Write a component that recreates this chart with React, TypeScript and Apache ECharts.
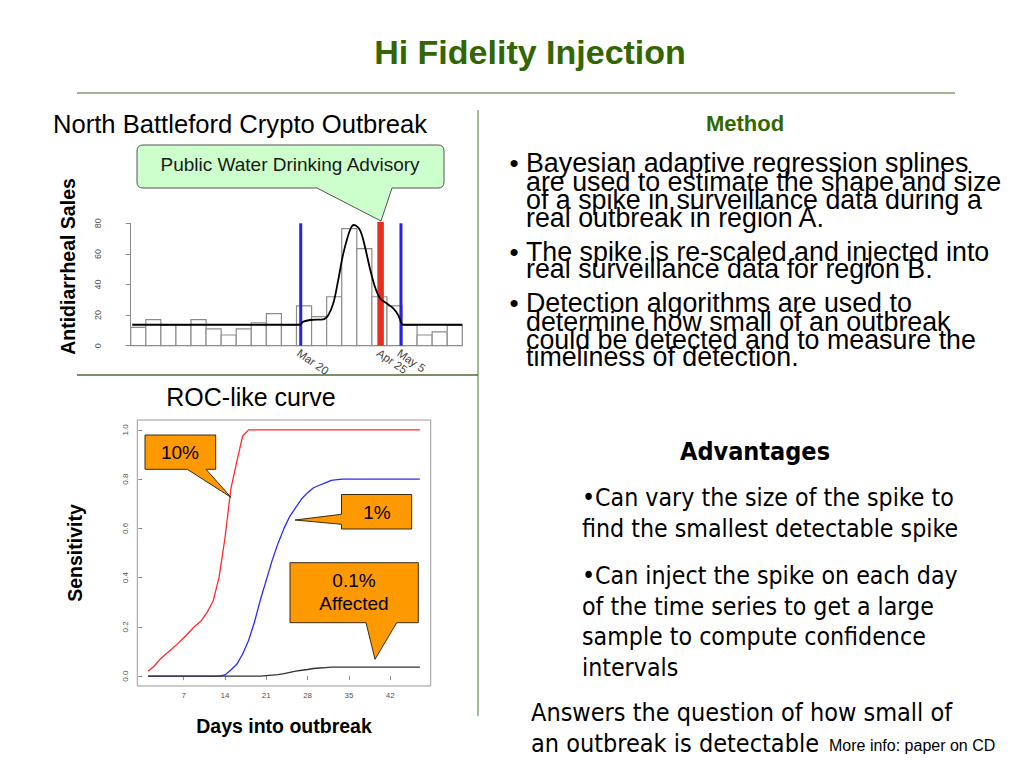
import React, { useEffect, useRef } from "react";
import * as echarts from "echarts";

// ---------- Top chart: weekly antidiarrheal sales ----------
const histValues = [12, 17, 13.5, 13.5, 17, 11, 7, 11, 15, 21, 13.5, 26, 19, 32, 76.5, 63.5, 32, 26, 13.5, 7, 9, 13.5];
const histTicks = [0, 20, 40, 60, 80];
const splineX = [0.1, 11.2, 11.45, 11.9, 12.78, 13.11, 13.44, 13.77, 14.1, 14.55, 14.81, 15.21, 15.54, 15.87, 16.2, 16.54, 16.98, 17.42, 17.75, 17.97, 18.1, 22];
const splineY = [13.7, 13.7, 15.7, 16.8, 17.2, 20, 27.7, 43, 60, 75.6, 78.9, 75.6, 64.7, 50.5, 38.6, 31, 27.7, 24.4, 20, 14.6, 13.7, 13.7];
const eventLabels = ["Mar 20", "Apr 25", "May 5"];
const eventPos = [11.28, 16.58, 17.93];
const eventTop = [80, 81, 80];
const eventColors = ["#2323e6", "#e5301c", "#2323e6"];
const eventWidths = [3, 6.5, 3];

// ---------- Bottom chart: ROC-like curve ----------
const days = [1, 2, 3, 4, 5, 6, 7, 8, 9, 10, 11, 12, 13, 14, 15, 16, 17, 18, 19, 20, 21, 22, 23, 24, 25, 26, 27, 28, 29, 30, 31, 32, 33, 34, 35, 36, 37, 38, 39, 40, 41, 42, 43, 44, 45, 46, 47];
const sens10 = [0.02, 0.04, 0.068, 0.09, 0.11, 0.132, 0.155, 0.18, 0.205, 0.225, 0.26, 0.305, 0.4, 0.56, 0.76, 0.87, 0.975, 1, 1, 1, 1, 1, 1, 1, 1, 1, 1, 1, 1, 1, 1, 1, 1, 1, 1, 1, 1, 1, 1, 1, 1, 1, 1, 1, 1, 1, 1];
const sens1 = [0, 0, 0, 0, 0, 0, 0, 0, 0, 0, 0, 0, 0, 0.005, 0.025, 0.048, 0.09, 0.145, 0.22, 0.31, 0.39, 0.47, 0.54, 0.6, 0.65, 0.685, 0.72, 0.745, 0.765, 0.775, 0.785, 0.795, 0.798, 0.8, 0.8, 0.8, 0.8, 0.8, 0.8, 0.8, 0.8, 0.8, 0.8, 0.8, 0.8, 0.8, 0.8];
const sens01 = [0, 0, 0, 0, 0, 0, 0, 0, 0, 0, 0, 0, 0, 0, 0, 0, 0, 0, 0, 0, 0.002, 0.004, 0.006, 0.01, 0.015, 0.02, 0.024, 0.027, 0.031, 0.033, 0.035, 0.037, 0.037, 0.037, 0.037, 0.037, 0.037, 0.037, 0.037, 0.037, 0.037, 0.037, 0.037, 0.037, 0.037, 0.037, 0.037];
const dayTicks = [7, 14, 21, 28, 35, 42];
const sensTicks = [0, 0.2, 0.4, 0.6, 0.8, 1.0];

// ---------- Slide texts ----------
const methodBullets = [
  ["Bayesian adaptive regression splines", "are used to estimate the shape and size", "of a spike in surveillance data during a", "real outbreak in region A."],
  ["The spike is re-scaled and injected into", "real surveillance data for region B."],
  ["Detection algorithms are used to", "determine how small of an outbreak", "could be detected and to measure the", "timeliness of detection."],
];
const methodLineY = [
  [163, 181.5, 200, 218],
  [251.5, 269],
  [303, 321.5, 340, 357],
];
const advLines = [
  "\u2022Can vary the size of the spike to",
  "find the smallest detectable spike",
  "\u2022Can inject the spike on each day",
  "of the time series to get a large",
  "sample to compute confidence",
  "intervals",
];
const advLineY = [497, 528, 575, 606, 636, 667];

const SANS = '"Liberation Sans", Arial, sans-serif';
const VERD = '"DejaVu Sans Condensed", "DejaVu Sans", sans-serif';

const greenCalloutPath =
  "M143 145 H438 Q444 145 444 151 V182 Q444 188 438 188 H392 L381 221 L317 188 H143 Q137 188 137 182 V151 Q137 145 143 145 Z";

function txt(text: string, x: number, y: number, font: string, fill = "#000", align = "left", rotation = 0) {
  return {
    type: "text",
    x,
    y,
    rotation,
    z: 100,
    style: { text, font, fill, align, textAlign: align, verticalAlign: "middle", textVerticalAlign: "middle" },
  };
}

export default function App() {
  const ref = useRef<HTMLDivElement>(null);
  useEffect(() => {
    document.body.style.margin = "0";
    if (!ref.current) return;
    try {
      echarts.graphic.registerShape("greenCallout", echarts.graphic.extendPath(greenCalloutPath, {}));
    } catch (e) {}
    const chart = echarts.init(ref.current, null, { renderer: "svg" });

    const graphics: any[] = [];
    graphics.push(txt("Hi Fidelity Injection", 530, 52, `bold 34px ${SANS}`, "#336600", "center"));
    graphics.push({ type: "line", z: 100, shape: { x1: 77, y1: 93, x2: 955, y2: 93 }, style: { stroke: "#7f9c68", lineWidth: 1.5 } });
    graphics.push({ type: "line", z: 100, shape: { x1: 478, y1: 110, x2: 478, y2: 716 }, style: { stroke: "#86a76e", lineWidth: 1.5 } });
    graphics.push({ type: "line", z: 100, shape: { x1: 77, y1: 375, x2: 478, y2: 375 }, style: { stroke: "#4d6b33", lineWidth: 1.5 } });
    graphics.push(txt("North Battleford Crypto Outbreak", 53, 124, `25.6px ${SANS}`, "#000"));
    graphics.push(txt("Method", 745, 123, `bold 22px ${SANS}`, "#336600", "center"));
    methodBullets.forEach((lines, bi) => {
      graphics.push(txt("\u2022", 514, methodLineY[bi][0], `26px ${SANS}`, "#000", "center"));
      lines.forEach((l, li) => graphics.push(txt(l, 526, methodLineY[bi][li], `26.8px ${SANS}`, "#000")));
    });
    graphics.push(txt("Antidiarrheal Sales", 68, 266.5, `bold 19.5px ${SANS}`, "#000", "center", Math.PI / 2));
    graphics.push(txt("ROC-like curve", 251, 397, `25px ${SANS}`, "#000", "center"));
    graphics.push(txt("Advantages", 755, 451, `bold 25px ${VERD}`, "#000", "center"));
    advLines.forEach((l, i) => graphics.push(txt(l, 582, advLineY[i], `24.7px ${VERD}`, "#000")));
    graphics.push(txt("Answers the question of how small of", 531, 712, `25px ${VERD}`, "#000"));
    graphics.push(txt("an outbreak is detectable", 531, 743, `25px ${VERD}`, "#000"));
    graphics.push(txt("More info: paper on CD", 829, 745, `16px ${SANS}`, "#000"));

    // callouts
    graphics.push({ type: "greenCallout", x: 0, y: 0, z: 100, style: { fill: "#ccffcc", stroke: "#555", lineWidth: 1 } });
    graphics.push(txt("Public Water Drinking Advisory", 290, 164, `19px ${SANS}`, "#1a1a1a", "center"));
    const orange = { fill: "#ff9900", stroke: "#3a2a10", lineWidth: 1 };
    graphics.push({
      type: "polygon", z: 100,
      shape: { points: [[145, 435], [215.7, 435], [215.7, 469.3], [206, 469.3], [231, 497.3], [187.3, 469.3], [145, 469.3]] },
      style: orange,
    });
    graphics.push(txt("10%", 180, 452, `19px ${SANS}`, "#000", "center"));
    graphics.push({
      type: "polygon", z: 100,
      shape: { points: [[341.5, 494.5], [411.7, 494.5], [411.7, 529], [341.5, 529], [341.5, 524.3], [295, 520], [341.5, 514.3]] },
      style: orange,
    });
    graphics.push(txt("1%", 377, 512, `19px ${SANS}`, "#000", "center"));
    graphics.push({
      type: "polygon", z: 100,
      shape: { points: [[290, 562.7], [418.3, 562.7], [418.3, 622.7], [396.7, 622.7], [375, 659.3], [366, 622.7], [290, 622.7]] },
      style: orange,
    });
    graphics.push(txt("0.1%", 354, 580, `19px ${SANS}`, "#000", "center"));
    graphics.push(txt("Affected", 354, 603, `19px ${SANS}`, "#000", "center"));

    const axisGray = "#8a8a8a";
    const option: any = {
      animation: false,
      backgroundColor: "#ffffff",
      grid: [
        { left: 116.7, top: 223.3, width: 345.6, height: 122.4 },
        { left: 137.3, top: 420, width: 293.4, height: 266, show: true, borderColor: "#999", borderWidth: 1 },
      ],
      xAxis: [
        { type: "value", gridIndex: 0, min: -0.93, max: 22, show: false },
        {
          type: "value", gridIndex: 1, min: -0.84, max: 48.84,
          axisLine: { show: false },
          axisTick: { show: true, customValues: dayTicks, length: 4, lineStyle: { color: axisGray } },
          axisLabel: { customValues: dayTicks, fontSize: 8, color: "#555", margin: 5, fontFamily: SANS },
          splitLine: { show: false },
          name: "Days into outbreak", nameLocation: "middle", nameGap: 30,
          nameTextStyle: { fontSize: 19.5, fontWeight: "bold", color: "#000", fontFamily: SANS },
        },
      ],
      yAxis: [
        {
          type: "value", gridIndex: 0, min: 0, max: 80, interval: 20,
          axisLine: { show: true, lineStyle: { color: axisGray } },
          axisTick: { show: true, length: 5, lineStyle: { color: axisGray } },
          axisLabel: { rotate: 90, fontSize: 9, color: "#555", margin: 14, fontFamily: SANS },
          splitLine: { show: false },
        },
        {
          type: "value", gridIndex: 1, min: -0.04, max: 1.04,
          axisLine: { show: false },
          axisTick: { show: true, customValues: sensTicks, length: 4, lineStyle: { color: axisGray } },
          axisLabel: { customValues: sensTicks, rotate: 90, fontSize: 8, color: "#555", margin: 8, fontFamily: SANS, formatter: (v: number) => v.toFixed(1) },
          splitLine: { show: false },
          name: "Sensitivity", nameLocation: "middle", nameGap: 52, nameRotate: 90,
          nameTextStyle: { fontSize: 19.5, fontWeight: "bold", color: "#000", fontFamily: SANS },
        },
      ],
      series: [
        {
          type: "custom", xAxisIndex: 0, yAxisIndex: 0,
          data: histValues.map((v, i) => [i, v]),
          encode: { x: 0, y: 1 },
          renderItem: (params: any, api: any) => {
            const i = api.value(0);
            const v = api.value(1);
            const p0 = api.coord([i, 0]);
            const p1 = api.coord([i + 1, v]);
            return {
              type: "rect",
              shape: { x: p0[0], y: p1[1], width: p1[0] - p0[0], height: p0[1] - p1[1] },
              style: { fill: "#fff", stroke: "#8c8c8c", lineWidth: 1.2 },
            };
          },
        },
        {
          type: "line", xAxisIndex: 0, yAxisIndex: 0,
          data: splineX.map((x, i) => [x, splineY[i]]),
          smooth: 0.35, symbol: "none",
          lineStyle: { color: "#000", width: 1.8 },
        },
        {
          type: "custom", xAxisIndex: 0, yAxisIndex: 0,
          data: eventPos.map((x, i) => [x, eventTop[i]]),
          encode: { x: 0, y: 1 },
          renderItem: (params: any, api: any) => {
            const idx = params.dataIndex;
            const b = api.coord([api.value(0), 0]);
            const t = api.coord([api.value(0), api.value(1)]);
            return {
              type: "group",
              children: [
                { type: "line", shape: { x1: b[0], y1: b[1], x2: t[0], y2: t[1] }, style: { stroke: eventColors[idx], lineWidth: eventWidths[idx] } },
                {
                  type: "text", x: b[0] + 1, y: b[1] + 1, rotation: (-35 * Math.PI) / 180,
                  style: { text: eventLabels[idx], font: `11.5px ${SANS}`, fill: "#444", align: "left", textAlign: "left", verticalAlign: "top", textVerticalAlign: "top" },
                },
              ],
            };
          },
        },
        {
          type: "line", xAxisIndex: 1, yAxisIndex: 1, name: "10%",
          data: days.map((d, i) => [d, sens10[i]]), symbol: "none",
          lineStyle: { color: "#ff2a2a", width: 1.3 },
        },
        {
          type: "line", xAxisIndex: 1, yAxisIndex: 1, name: "1%",
          data: days.map((d, i) => [d, sens1[i]]), symbol: "none",
          lineStyle: { color: "#2a2aff", width: 1.3 },
        },
        {
          type: "line", xAxisIndex: 1, yAxisIndex: 1, name: "0.1%",
          data: days.map((d, i) => [d, sens01[i]]), symbol: "none",
          lineStyle: { color: "#333", width: 1.3 },
        },
      ],
      graphic: { elements: graphics },
    };
    chart.setOption(option);
    return () => chart.dispose();
  }, []);
  return <div ref={ref} style={{ width: 1024, height: 768, position: "absolute", left: 0, top: 0 }} />;
}
